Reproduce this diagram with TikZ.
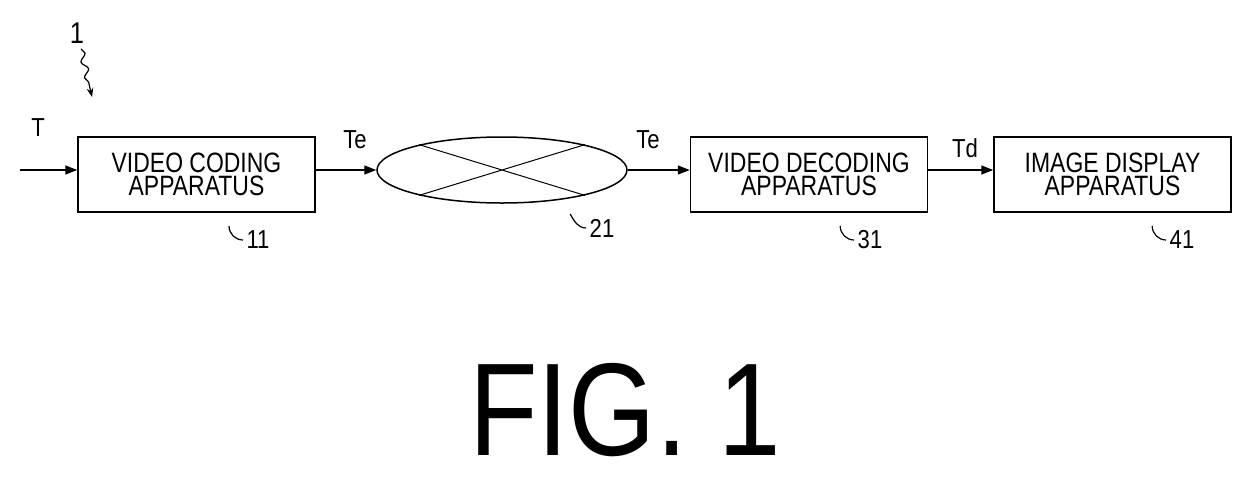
\documentclass[tikz,border=0pt]{standalone}
\usepackage{fontspec}
\usepackage{graphicx}
\setmainfont{Liberation Sans}
\usetikzlibrary{arrows.meta,decorations.pathmorphing,shapes.geometric}
\begin{document}
\begin{tikzpicture}[x=1pt,y=-1pt,
  box/.style={draw,line width=1.5pt,minimum width=237pt,minimum height=75pt,inner sep=0pt,align=center,font=\fontsize{28}{29}\selectfont},
  lbl/.style={font=\fontsize{26}{28}\selectfont},
  arr/.style={line width=1.5pt,-{Triangle[length=12pt,width=9pt]}},
  lead/.style={line width=1.2pt}]
\useasboundingbox (0,0) rectangle (1253,480);
\node[box] (b1) at (196.5,174.5) {\scalebox{0.82}[1]{\shortstack{VIDEO CODING\\APPARATUS}}};
\node[draw,line width=1.5pt,ellipse,minimum width=250pt,minimum height=66pt,inner sep=0pt] (e) at (502,170) {};
\node[box] (b2) at (809,174.5) {\scalebox{0.82}[1]{\shortstack{VIDEO DECODING\\APPARATUS}}};
\node[box] (b3) at (1112.5,174.5) {\scalebox{0.82}[1]{\shortstack{IMAGE DISPLAY\\APPARATUS}}};
\draw[line width=1pt] (e.163) -- (e.-17) (e.-163) -- (e.17);
\coordinate (in) at (20,170);
\draw[arr] (in) -- (b1.west |- in);
\draw[arr] (b1.east |- e.west) -- (e.west);
\draw[arr] (e.east) -- (b2.west |- e.east);
\draw[arr] (b2.east |- e.east) -- (b3.west |- e.east);
\node[lbl] (tT) at (38,128) {\scalebox{0.85}[1]{T}};
\node[lbl] (t1) at (355,140) {\scalebox{0.85}[1]{Te}};
\node[lbl] (t2) at (648,140) {\scalebox{0.85}[1]{Te}};
\node[lbl] (t3) at (965,148) {\scalebox{0.85}[1]{Td}};
\node[lbl] (r11) at (258,240) {\scalebox{0.85}[1]{11}};
\node[lbl] (r21) at (602,228) {\scalebox{0.85}[1]{21}};
\node[lbl] (r31) at (870,240) {\scalebox{0.85}[1]{31}};
\node[lbl] (r41) at (1182,240) {\scalebox{0.85}[1]{41}};
\draw[lead] (r11.west) to[out=180,in=-90] ++(-14,-14);
\draw[lead] (r21.west) to[out=180,in=-60] ++(-16,-14);
\draw[lead] (r31.west) to[out=180,in=-90] ++(-14,-14);
\draw[lead] (r41.west) to[out=180,in=-90] ++(-14,-14);
\node[font=\fontsize{30}{32}\selectfont] (n1) at (77,33) {\scalebox{0.85}[1]{1}};
\coordinate (p1) at (92,97);
\draw[line width=1.2pt,-{Stealth[length=9pt]},decorate,decoration={snake,amplitude=3pt,segment length=16pt,post length=8pt}] (n1.south) ++(4,2) -- (p1);
\node[font=\fontsize{132}{135}\selectfont] (fig) at (625,410) {\scalebox{0.85}[1]{FIG. 1}};
\end{tikzpicture}
\end{document}
